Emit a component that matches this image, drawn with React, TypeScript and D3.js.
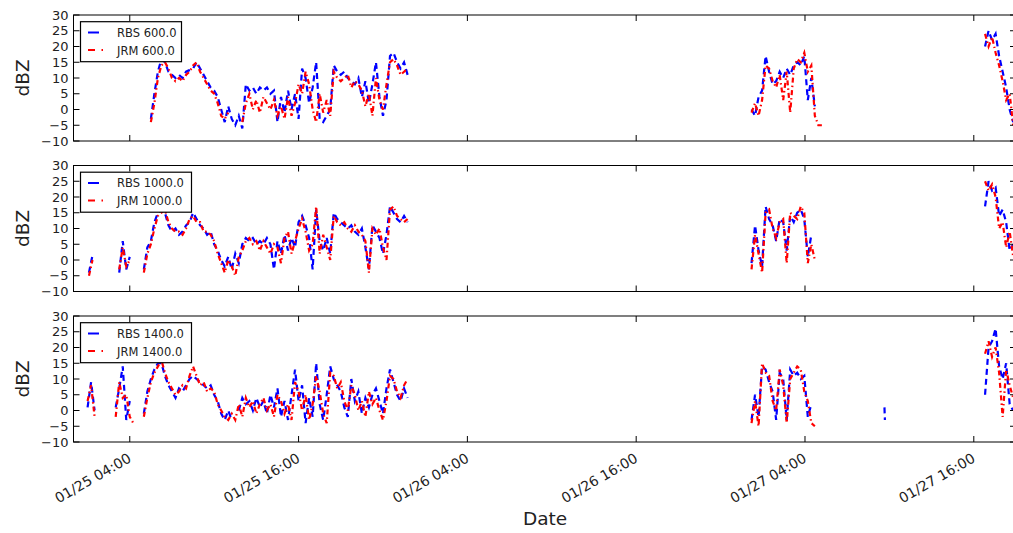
import React from "react";
import * as d3 from "d3";

const W = 1013;
const H = 533;

// time axis
const baseTime = "2015-01-25T00:00:00Z";
const xDomain = ["2015-01-25T00:00:00Z", "2015-01-27T19:00:00Z"];
const xTickTimes = [
  "2015-01-25T04:00:00Z",
  "2015-01-25T16:00:00Z",
  "2015-01-26T04:00:00Z",
  "2015-01-26T16:00:00Z",
  "2015-01-27T04:00:00Z",
  "2015-01-27T16:00:00Z",
];
const yTicks = [-10, -5, 0, 5, 10, 15, 20, 25, 30];
const heights = ["600.0", "1000.0", "1400.0"];

// segments: start = hours after 01/25 00:00, step = hours between samples
type Seg = { start: number; step: number; values: (number | null)[] };

const rbs600: Seg[] = [
  { start: 5.5, step: 0.25, values: [
    -3, 5, 12, 16, 15, 12, 11, 10, 11, 10,
    12, 12.5, 13, 15, 13, 11, 9, 7, 6, 4,
    0, -4, 1, -3, -5, -2, -6, 8, 6, 7,
    5, 7, 6, 7, 5, 6, -4, 4, -1, 6,
    0, 5, -3, 13, 10, 2, 7, 15, -3, -4,
    -2, 0, 14, 12, 11, 12, 10, 9, 8, 10,
    4, 9, 2, 8, 15, 4, -2, 3, 17, 18,
    15, 13, 15, 11] },
  { start: 48.2, step: 0.25, values: [0, -2, 4, 6, 17, 12, 8, 9, 12, 10, 13, 11, 14, 15, 14, 17, 3, 10, 1] },
  { start: 64.8, step: 0.25, values: [20, 25, 22, 24, 17, 12, 7, 0, -4] },
];
const jrm600: Seg[] = [
  { start: 5.5, step: 0.25, values: [
    -4, 2, 10, 14, 15, 13, 10, 9, 10, 9,
    11, 12, 14, 15, 12, 10, 8, 6, 5, 2,
    -2, -3, -1, null, null, null, -4, 2, 5, 0,
    3, -1, 4, 2, 0, 3, -2, 1, -3, 4,
    -2, 2, 8, 5, 12, 8, 0, -4, 5, -1,
    3, -2, 12, 10, 9, 10, 11, 7, 9, 8,
    6, 1, 5, -2, 10, 3, 0, 8, 15, 16,
    14, 11, 12, 13] },
  { start: 48.2, step: 0.25, values: [-1, 2, -2, 3, 14, 13, 9, 7, 11, 3, 12, -1, 13, 16, 15, 18, 12, 14, -2, -5, -5] },
  { start: 64.8, step: 0.25, values: [24, 20, 23, 18, 14, 9, 3, 5, -5] },
];

const rbs1000: Seg[] = [
  { start: 1.1, step: 0.25, values: [-4, 1.5] },
  { start: 3.25, step: 0.25, values: [-4, 6, -3, 1] },
  { start: 5.0, step: 0.25, values: [
    -3, 4, 6, 12, 15, 16, 15, 11, 9, 10,
    8, 9, 11, 12, 15, 13, 11, 10, 8, 9,
    5, 3, 0, -2, 1, -3, 2, -1, 5, 7,
    6, 7, 5, 6, 5, 7, 5, -3, 6, 2,
    8, 3, 7, 4, 12, 14, 11, 7, -3, 16,
    6, 3, 7, 2, 15, 13, 12, 11, 10, 11,
    9, 8, 10, 4, -3, 11, 9, 7, 2, 8,
    17, 15, 13, 12, 14, 12] },
  { start: 48.2, step: 0.25, values: [-1, 11, 3, -2, 17, 13, 11, 6, 13, 12, 3, 14, 12, 15, 16, 13, 1, 8] },
  { start: 64.8, step: 0.25, values: [17, 25, 22, 23, 14, 16, 12, 3, 5] },
];
const jrm1000: Seg[] = [
  { start: 1.1, step: 0.25, values: [-5, 0] },
  { start: 3.25, step: 0.25, values: [-3, 4, -2, 0] },
  { start: 5.0, step: 0.25, values: [
    -4, 2, 5, 10, 14, 15, 16, 12, 10, 9,
    9, 8, 10, 13, 14, 12, 12, 9, 9, 8,
    6, 2, -1, -4, 0, -2, -5, 1, 3, 6,
    7, 5, 6, 3, 6, 4, 2, 5, 4, -1,
    7, 9, 2, 6, 10, 13, 9, 3, 5, 17,
    2, 8, 4, 0, 14, 12, 11, 12, 10, 9,
    11, 9, 8, 6, -4, 10, 8, 10, 4, 0,
    16, 17, 14, 13, 12, 13] },
  { start: 48.2, step: 0.25, values: [-3, 8, 2, -4, 15, 16, 10, 7, 12, 13, -1, 15, 14, 13, 17, 15, -1, 5, 0] },
  { start: 64.8, step: 0.25, values: [25, 22, 24, 20, 10, 12, 4, 9, 1] },
];

const rbs1400: Seg[] = [
  { start: 1.0, step: 0.25, values: [1, 9, 0] },
  { start: 3.0, step: 0.25, values: [1, 7, 14, -3, 3] },
  { start: 5.0, step: 0.25, values: [
    -1, 6, 10, 13, 15, 15, 11, 8, 6, 4,
    7, 6, 8, 10, 11, 10, 9, 8, 7, 8,
    5, 3, -1, -3, 0, -3, null, 0, 4, 2,
    3, 0, 4, 1, 3, -1, 5, 1, 7, -2,
    3, -3, 5, 13, 3, 8, -4, 4, -2, 15,
    2, -3, 5, 14, 10, 8, 6, 1, -2, 10,
    3, 6, -1, 4, 1, 5, 7, 3, -1, 7,
    13, 9, 5, 3, 7, 4] },
  { start: 48.2, step: 0.25, values: [-3, 5, -2, 14, 13, 9, 6, -3, 12, 10, -3, 13, 11, 12, 10, 11, -2, 2] },
  { start: 57.65, step: 0.03, values: [1, -3] },
  { start: 64.8, step: 0.25, values: [5, 20, 22, 26, 14, 10, 15, 2, 0] },
];
const jrm1400: Seg[] = [
  { start: 1.0, step: 0.25, values: [3, 8, -2] },
  { start: 3.0, step: 0.25, values: [-2, 9, 4, 5, -2, -4] },
  { start: 5.0, step: 0.25, values: [
    -2, 4, 9, 12, 14, 16, 12, 9, 7, 5,
    6, 8, 7, 11, 14, 11, 8, 9, 6, 7,
    6, 2, 0, -2, -3, -1, -3, 2, -2, 4,
    1, 3, -1, 2, 4, 0, 2, -2, 5, 3,
    -1, 2, -3, 9, 6, 0, 5, -3, 2, 11,
    6, -1, -4, 12, 11, 7, 9, 3, 0, 8,
    5, 0, 3, -2, 6, 2, 4, 0, -3, 3,
    11, 10, 6, 4, 8, 10] },
  { start: 48.2, step: 0.25, values: [-4, 3, -5, 15, 12, 11, 3, 0, 13, 8, -4, 10, 12, 14, 13, 6, 3, -4, -5] },
  { start: 64.8, step: 0.25, values: [18, 22, 17, 20, 12, -2, 13, 8, 4] },
];

const panels = [
  { rbs: rbs600, jrm: jrm600 },
  { rbs: rbs1000, jrm: jrm1000 },
  { rbs: rbs1400, jrm: jrm1400 },
];

const left = 73.5;
const right = 1016;
const panelTops = [15, 165.5, 316];
const panelH = 126;
const tickLen = 6;
const font = "DejaVu Sans, sans-serif";

type Pt = { t: Date; v: number | null };

const base = Date.parse(baseTime);
const toPts = (s: Seg): Pt[] =>
  s.values.map((v, i) => ({ t: new Date(base + (s.start + i * s.step) * 3600e3), v }));

export default function App() {
  const x = d3.scaleUtc().domain(xDomain.map((d) => new Date(d))).range([left, right]);
  const fmt = d3.utcFormat("%m/%d %H:%M");
  const ticks = xTickTimes.map((d) => new Date(d));

  return (
    <svg width={W} height={H} style={{ position: "absolute", left: 0, top: 0, background: "#fff" }} fontFamily={font}>
      {panels.map((p, k) => {
        const top = panelTops[k];
        const bottom = top + panelH;
        const y = d3.scaleLinear().domain([-10, 30]).range([bottom, top]);
        const line = d3
          .line<Pt>()
          .defined((d) => d.v != null)
          .x((d) => x(d.t))
          .y((d) => y(d.v as number));
        const label = heights[k];
        const boxW = 11 + 10 * ("RBS " + label).length;
        return (
          <g key={k}>
            <defs>
              <clipPath id={`clip${k}`}>
                <rect x={left} y={top} width={right - left} height={panelH} />
              </clipPath>
            </defs>
            <g clipPath={`url(#clip${k})`} fill="none" strokeWidth={2.2}>
              {p.rbs.map((s, i) => (
                <path key={"b" + i} d={line(toPts(s)) || ""} stroke="#0000ff" strokeDasharray="6,4" />
              ))}
              {p.jrm.map((s, i) => (
                <path key={"r" + i} d={line(toPts(s)) || ""} stroke="#ff0000" strokeDasharray="5,3,1.5,3" />
              ))}
            </g>
            <rect x={left} y={top} width={right - left} height={panelH} fill="none" stroke="#000" strokeWidth={1} />
            {ticks.map((t, i) => (
              <g key={i} stroke="#000">
                <line x1={x(t)} x2={x(t)} y1={top} y2={top + tickLen} />
                <line x1={x(t)} x2={x(t)} y1={bottom} y2={bottom - tickLen} />
              </g>
            ))}
            {yTicks.map((v) => (
              <g key={v}>
                <line x1={left} x2={left + tickLen} y1={y(v)} y2={y(v)} stroke="#000" />
                <line x1={right} x2={right - tickLen} y1={y(v)} y2={y(v)} stroke="#000" />
                <text x={left - 5} y={y(v)} dy="0.36em" textAnchor="end" fontSize={13} fill="#222">
                  {v < 0 ? "\u2212" + Math.abs(v) : v}
                </text>
              </g>
            ))}
            <text transform={`translate(28.5,${(top + bottom) / 2}) rotate(-90)`} textAnchor="middle" fontSize={18.5} fill="#222">
              dBZ
            </text>
            <g>
              <rect x={80.5} y={top + 6.7} width={boxW} height={40} fill="#fff" stroke="#000" strokeWidth={1.2} />
              <line x1={88} x2={110} y1={top + 17.5} y2={top + 17.5} stroke="#0000ff" strokeWidth={2} strokeDasharray="11,30" />
              <line x1={88} x2={110} y1={top + 35} y2={top + 35} stroke="#ff0000" strokeWidth={2} strokeDasharray="7,6.5,1.5,30" />
              <text x={117} y={top + 21.7} fontSize={11.5} fill="#222">{"RBS " + label}</text>
              <text x={117} y={top + 39.5} fontSize={11.5} fill="#222">{"JRM " + label}</text>
            </g>
            {k === panels.length - 1 &&
              ticks.map((t, i) => (
                <text key={"xl" + i} transform={`translate(${x(t) + 2.5},${bottom + 19}) rotate(-30)`} textAnchor="end" fontSize={14} fill="#222">
                  {fmt(t)}
                </text>
              ))}
          </g>
        );
      })}
      <text x={545} y={525} textAnchor="middle" fontSize={18.5} fill="#222">
        Date
      </text>
    </svg>
  );
}
